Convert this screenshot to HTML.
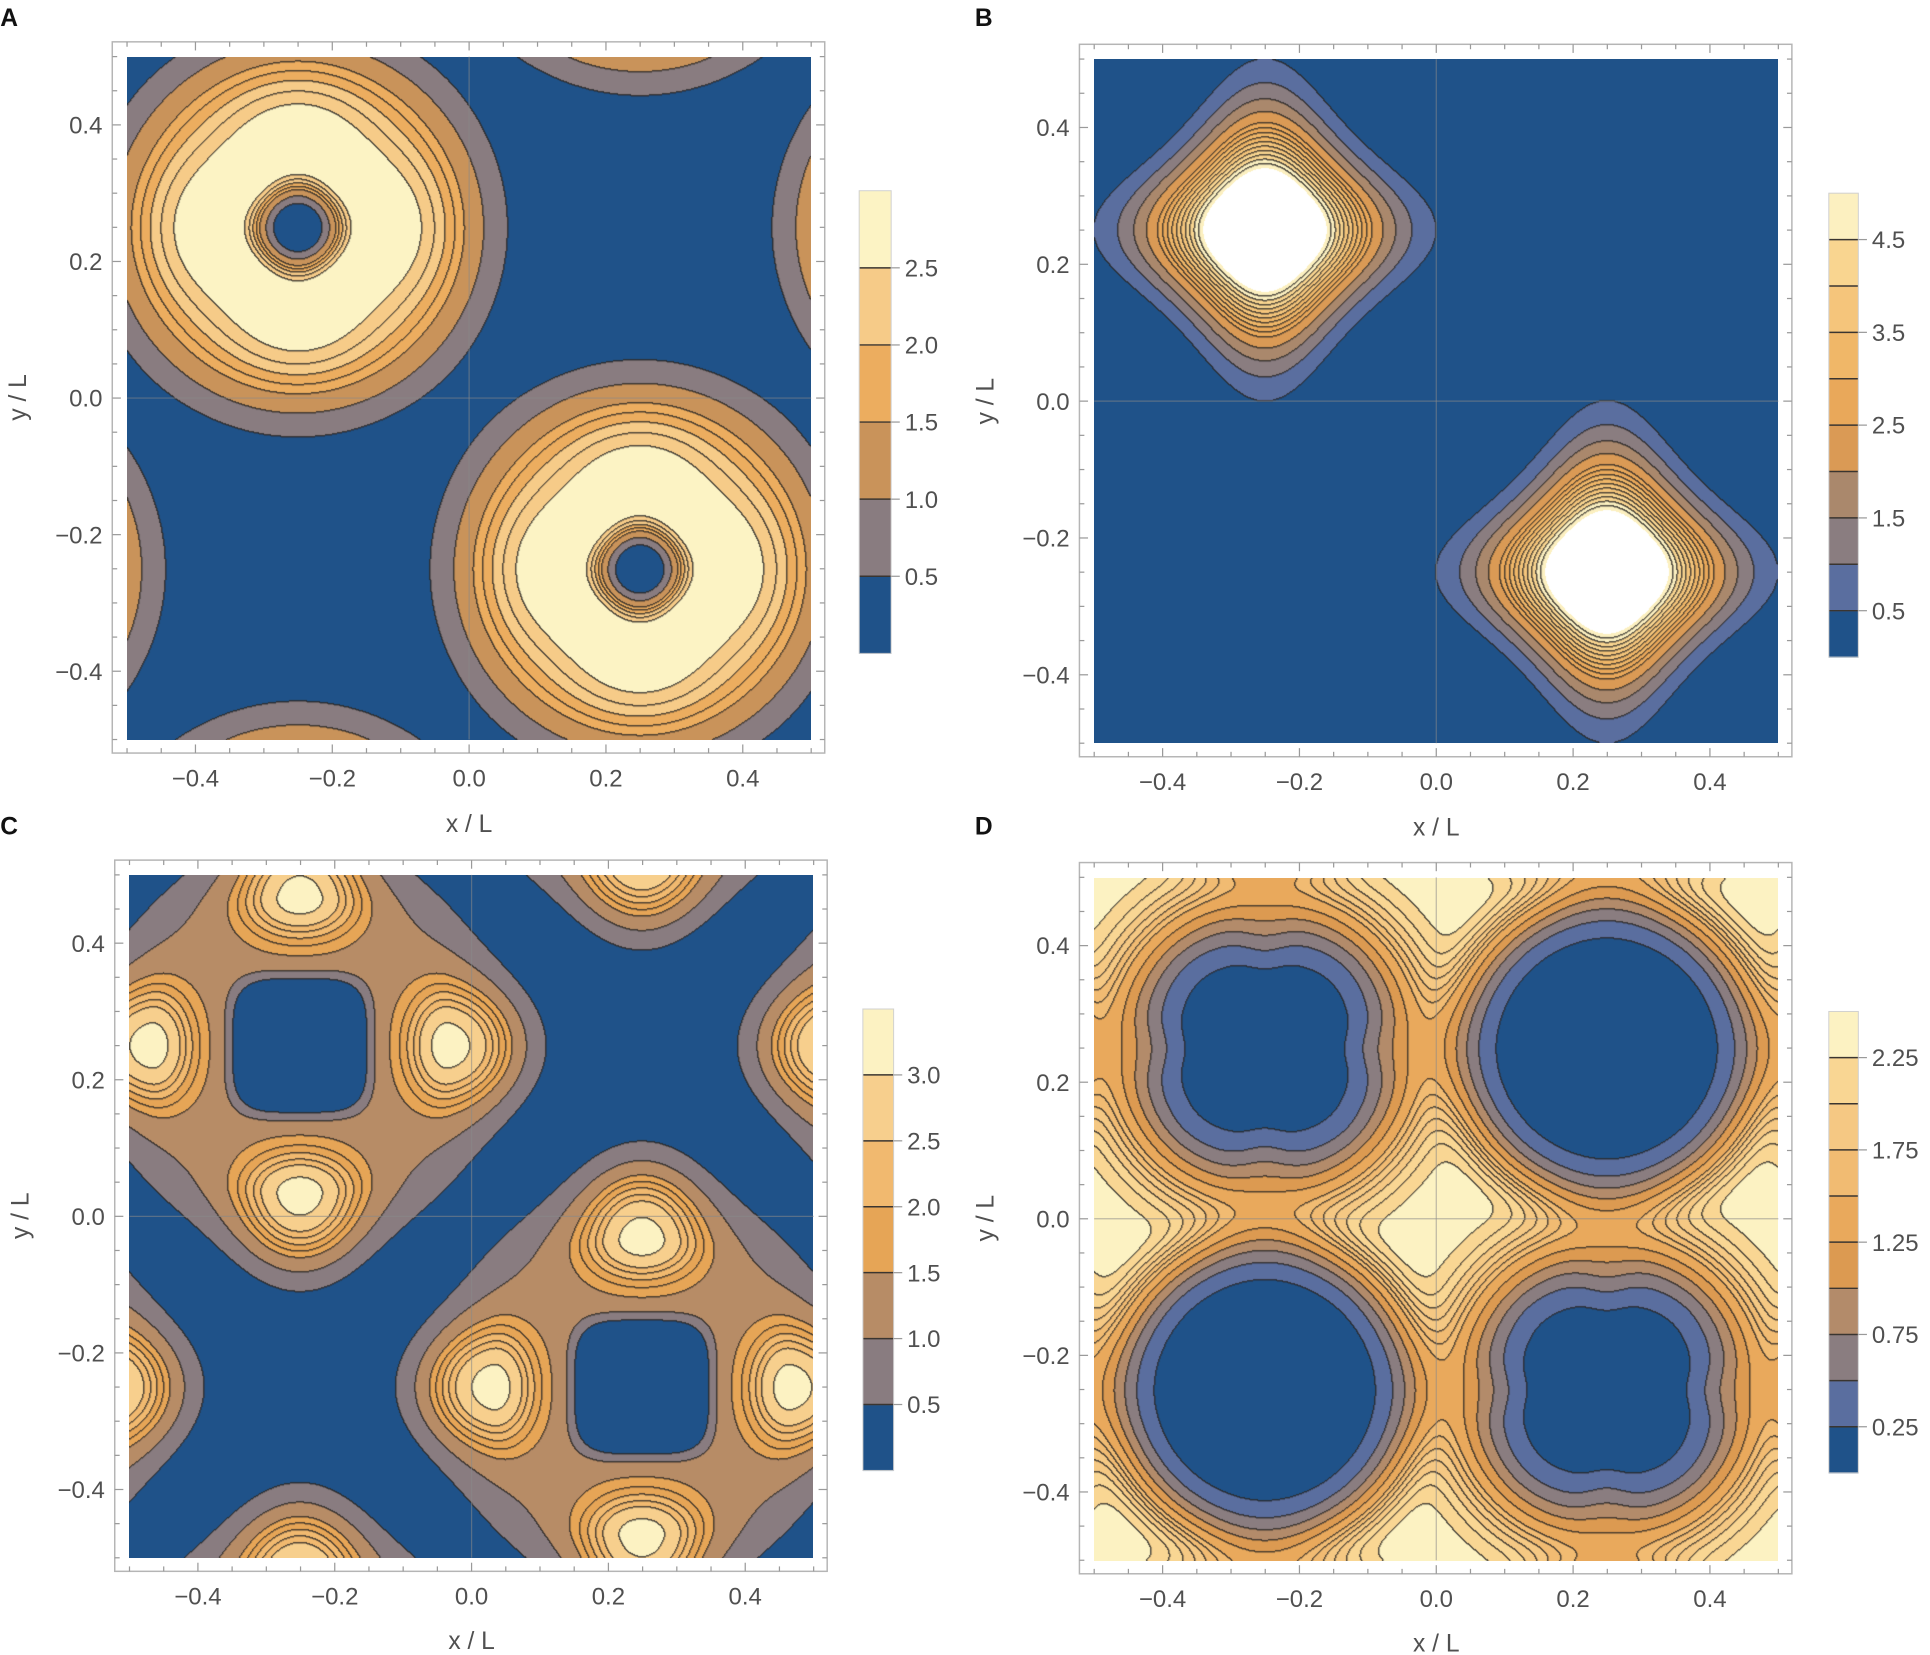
<!DOCTYPE html>
<html><head><meta charset="utf-8">
<style>
body{margin:0;background:#fff;}
#root{position:relative;width:1930px;height:1655px;overflow:hidden;background:#fff}
canvas{position:absolute}
svg{position:absolute;left:0;top:0}
text{font-family:"Liberation Sans",sans-serif;fill:#505050}
</style></head>
<body>
<div id="root">
<canvas id="cA"></canvas>
<canvas id="cB"></canvas>
<canvas id="cC"></canvas>
<canvas id="cD"></canvas>
<svg id="ov" width="1930" height="1655" viewBox="0 0 1568 1345">
<text x="0" y="21" style="font-weight:bold;font-size:20px;fill:#111">A</text>
<text x="792" y="21" style="font-weight:bold;font-size:20px;fill:#111">B</text>
<text x="0" y="678" style="font-weight:bold;font-size:20px;fill:#111">C</text>
<text x="792" y="678" style="font-weight:bold;font-size:20px;fill:#111">D</text>
<text x="381" y="676" text-anchor="middle" font-size="20">x / L</text>
<text x="1167" y="679" text-anchor="middle" font-size="20">x / L</text>
<text x="383" y="1340" text-anchor="middle" font-size="20">x / L</text>
<text x="1167" y="1342" text-anchor="middle" font-size="20">x / L</text>
<text transform="translate(21,323) rotate(-90)" text-anchor="middle" font-size="20">y / L</text>
<text transform="translate(807,326) rotate(-90)" text-anchor="middle" font-size="20">y / L</text>
<text transform="translate(23,988) rotate(-90)" text-anchor="middle" font-size="20">y / L</text>
<text transform="translate(807,990) rotate(-90)" text-anchor="middle" font-size="20">y / L</text>
</svg>
</div>
<script>
// ---------- data ----------
const centers = [[-0.25, 0.25], [0.25, -0.25]];
const bigHolesD = [[0.25, 0.25], [-0.25, -0.25]];
const axisTickValues = [-0.4, -0.2, 0, 0.2, 0.4];
const axisTickLabels = ["\u22120.4", "\u22120.2", "0.0", "0.2", "0.4"];

const levelsA = [0, 0.5, 1, 1.5, 2, 2.5, 3];
const colorsA = ['#1f5289','#897c80','#c9935a','#ecad5f','#f6cb88','#fcf3c4'];
const linesA = [0.5, 1, 1.5, 1.75, 2, 2.25, 2.5];
const cbValsA = [0.5, 1, 1.5, 2, 2.5];
const cbLabelsA = ['0.5','1.0','1.5','2.0','2.5'];
const paramsA = [3.0, 0.062, 0.265, 0.06];

const levelsB = [0, 0.5, 1, 1.5, 2, 2.5, 3, 3.5, 4, 4.5, 5];
const colorsB = ['#1f5289','#5a6e9f','#8a7d80','#aa886c','#da9a55','#e9a85a','#f0b768','#f5c57b','#f9d590','#fcf0c0','#ffffff'];
const linesB = [0.5, 1, 1.5, 2, 2.5, 2.75, 3, 3.25, 3.5, 3.75, 4, 4.25, 4.5, 4.75];
const cbValsB = [0.5, 1.5, 2.5, 3.5, 4.5];
const cbLabelsB = ['0.5','1.5','2.5','3.5','4.5'];
const paramsB = [7.05, 0.154, 0.06, 0.42];

const levelsC = [0, 0.5, 1, 1.5, 2, 2.5, 3, 3.5];
const colorsC = ['#1f5289','#897c80','#b78c66','#e6a556','#f1b96f','#f7cf8d','#fcf2c2'];
const linesC = [0.5, 1, 1.5, 1.75, 2, 2.25, 2.5, 3];
const cbValsC = [0.5, 1, 1.5, 2, 2.5, 3];
const cbLabelsC = ['0.5','1.0','1.5','2.0','2.5','3.0'];
const paramsC = [1.3, 0.102, 0.30, 2.2, 0.22];

const levelsD = [0, 0.25, 0.5, 0.75, 1, 1.25, 1.5, 1.75, 2, 2.25, 2.5];
const colorsD = ['#1f5289','#5a6e9f','#8a7d80','#b38b6a','#dc9a51','#e9a95c','#f1bb72','#f5c883','#f9d693','#fcf2c2'];
const linesD = [0.25, 0.5, 0.75, 1, 1.25, 1.5, 1.625, 1.75, 1.875, 2, 2.125, 2.25];
const cbValsD = [0.25, 0.75, 1.25, 1.75, 2.25];
const cbLabelsD = ['0.25','0.75','1.25','1.75','2.25'];
const paramsD = [2.35, 2.3, 0.231, 6.5, 0.2307, 4.18];

// ---------- layout ----------
const S = 1930 / 1568;
const panels = [
  {id:'A', cv:'cA', plot:[103,46,659,601], cb:[698,155,724,531], lv:levelsA, col:colorsA, ln:linesA, cv_:cbValsA, cl:cbLabelsA},
  {id:'B', cv:'cB', plot:[889,48,1445,604], cb:[1486,157,1510,534], lv:levelsB, col:colorsB, ln:linesB, cv_:cbValsB, cl:cbLabelsB},
  {id:'C', cv:'cC', plot:[105,711,661,1266], cb:[701,820,726,1195], lv:levelsC, col:colorsC, ln:linesC, cv_:cbValsC, cl:cbLabelsC},
  {id:'D', cv:'cD', plot:[889,713,1445,1268], cb:[1486,822,1510,1197], lv:levelsD, col:colorsD, ln:linesD, cv_:cbValsD, cl:cbLabelsD}
];

// ---------- fields ----------
function forImages(list, x, y, cb) {
  let s = 0;
  for (let c = 0; c < list.length; c++)
    for (let i = -1; i <= 1; i++) for (let j = -1; j <= 1; j++) {
      const dx = x - (list[c][0] + i), dy = y - (list[c][1] + j);
      if (Math.abs(dx) > 0.8 || Math.abs(dy) > 0.8) continue;
      s += cb(dx, dy, c);
    }
  return s;
}
function cos4(dx, dy) {
  const r2 = dx*dx + dy*dy; if (r2 < 1e-12) return 0;
  return (dx*dx*dx*dx - 6*dx*dx*dy*dy + dy*dy*dy*dy) / (r2*r2);
}
function fieldA(x, y) {
  const [P, a, b, k] = paramsA;
  return forImages(centers, x, y, (dx, dy) => {
    const r = Math.hypot(dx, dy);
    const re = r * (1 - k * cos4(dx, dy) * Math.exp(-Math.pow((r - 0.14) / 0.07, 2)));
    return P * (1 - Math.exp(-Math.pow(re / a, 3))) * Math.exp(-Math.pow(re / b, 4));
  });
}
function fieldB(x, y) {
  const [P, w, k0, k1] = paramsB;
  return forImages(centers, x, y, (dx, dy) => {
    const r = Math.hypot(dx, dy);
    const k = k0 + k1 * Math.pow(Math.min(1, r / 0.25), 2);
    const re = r * (1 + k * (1 - cos4(dx, dy)) / 2);
    return P * Math.exp(-(re / w) * (re / w));
  });
}
function fieldC(x, y) {
  const [P, h, w, L, R] = paramsC;
  const dirs = [[1,0],[-1,0],[0,1],[0,-1]];
  return forImages(centers, x, y, (dx, dy) => {
    const r = Math.hypot(dx, dy);
    const r4 = Math.pow(dx*dx*dx*dx + dy*dy*dy*dy, 0.25);
    const rise = 1 / (1 + Math.exp(-(r4 - h) / 0.008));
    let v = P * rise * Math.exp(-Math.pow(r / w, 6));
    for (const u of dirs) {
      const s = dx*u[0] + dy*u[1], t = -dx*u[1] + dy*u[0];
      const dr = s - R, sr = dr > 0 ? 0.11 : 0.06;
      v += L * rise * Math.exp(-(dr/sr)*(dr/sr) - (t/0.085)*(t/0.085));
    }
    return v;
  });
}
function fieldD(x, y) {
  const [bg, D, aB, nB, aS, nS] = paramsD;
  const big = forImages(bigHolesD, x, y, (dx, dy) => {
    const r = Math.hypot(dx, dy);
    return D * Math.exp(-Math.pow(r / aB, nB));
  });
  const small = forImages(centers, x, y, (dx, dy) => {
    const r = Math.hypot(dx, dy);
    const k = 0.12 * Math.exp(-Math.pow((r - 0.13) / 0.07, 2));
    const ax = Math.pow((1 + cos4(dx, dy)) / 2, 4);
    const diag = Math.pow((1 - cos4(dx, dy)) / 2, 2);
    const re = r * (1 + k * ax - 0.05 * diag * Math.exp(-Math.pow((r - 0.14) / 0.06, 2)));
    return D * Math.exp(-Math.pow(re / aS, nS));
  });
  return bg - big - small;
}
const fields = {A: fieldA, B: fieldB, C: fieldC, D: fieldD};

// ---------- render ----------
function hex(c) { return [parseInt(c.slice(1,3),16), parseInt(c.slice(3,5),16), parseInt(c.slice(5,7),16)]; }
function renderPanel(p) {
  const cv = document.getElementById(p.cv);
  const [x0, y0, x1, y1] = p.plot;
  const W = Math.round((x1 - x0) * S), H = Math.round((y1 - y0) * S);
  cv.width = W; cv.height = H;
  cv.style.left = Math.round(x0 * S) + 'px'; cv.style.top = Math.round(y0 * S) + 'px';
  cv.style.width = W + 'px'; cv.style.height = H + 'px';
  const ctx = cv.getContext('2d');
  const img = ctx.createImageData(W, H);
  const f = fields[p.id];
  const bands = new Uint8Array(W * H), lines = new Uint8Array(W * H);
  const cols = p.col.map(hex);
  for (let j = 0; j < H; j++) for (let i = 0; i < W; i++) {
    const x = -0.5 + (i + 0.5) / W, y = 0.5 - (j + 0.5) / H;
    const v = f(x, y);
    let b = 0; for (let k = 1; k < p.lv.length; k++) if (v > p.lv[k]) b++;
    if (b > cols.length - 1) b = cols.length - 1;
    let l = 0; for (let k = 0; k < p.ln.length; k++) if (v > p.ln[k]) l++;
    bands[j*W+i] = b; lines[j*W+i] = l;
  }
  const dark = [40, 38, 36];
  for (let j = 0; j < H; j++) for (let i = 0; i < W; i++) {
    const id = j*W+i, c = cols[bands[id]];
    let a = 0;
    const l = lines[id];
    if (i < W-1 && lines[id+1] !== l) a = 0.8;
    if (j < H-1 && lines[id+W] !== l) a = 0.8;
    if (a === 0) {
      if (i > 0 && lines[id-1] !== l) a = 0.4;
      if (j > 0 && lines[id-W] !== l) a = 0.4;
    }
    const o = id * 4;
    img.data[o] = c[0]*(1-a) + dark[0]*a;
    img.data[o+1] = c[1]*(1-a) + dark[1]*a;
    img.data[o+2] = c[2]*(1-a) + dark[2]*a;
    img.data[o+3] = 255;
  }
  ctx.putImageData(img, 0, 0);
}

const NS = 'http://www.w3.org/2000/svg';
const svg = document.getElementById('ov');
function mk(tag, attrs) { const e = document.createElementNS(NS, tag); for (const k in attrs) e.setAttribute(k, attrs[k]); svg.appendChild(e); return e; }

function decorate(p) {
  const [x0, y0, x1, y1] = p.plot;
  const id = p.id.toLowerCase();
  const X = v => x0 + (v + 0.5) * (x1 - x0);
  const Y = v => y0 + (0.5 - v) * (y1 - y0);
  const gx = mk('line', {x1: X(0), x2: X(0), y1: y0, y2: y1, stroke: '#888', 'stroke-opacity': 0.55, 'stroke-width': 1});
  
  
  const gy = mk('line', {x1: x0, x2: x1, y1: Y(0), y2: Y(0), stroke: '#888', 'stroke-opacity': 0.55, 'stroke-width': 1});
  
  
  const fx0 = x0 - 12, fy0 = y0 - 12, fx1 = x1 + 11, fy1 = y1 + 11;
  const fr = mk('rect', {x: fx0, y: fy0, width: fx1 - fx0, height: fy1 - fy0, fill: 'none', stroke: '#b5b5b5', 'stroke-width': 1.2});
  
  
  for (let k = -10; k <= 10; k++) {
    const v = k * 0.05, major = (k % 4 === 0 && Math.abs(k) !== 10);
    const len = major ? 7 : 4;
    const px = X(v), py = Y(v);
    const segs = [[px, fy1, px, fy1 - len], [px, fy0, px, fy0 + len], [fx0, py, fx0 + len, py], [fx1, py, fx1 - len, py]];
    for (const s of segs) {
      const t = mk('line', {x1: s[0], y1: s[1], x2: s[2], y2: s[3], stroke: '#9a9a9a', 'stroke-width': 1});
      
      
    }
  }
  axisTickValues.forEach((v, i) => {
    const tx = mk('text', {x: X(v), y: fy1 + 27, 'text-anchor': 'middle', 'font-size': 19.5});
    tx.textContent = axisTickLabels[i];
    
    
    const ty = mk('text', {x: fx0 - 8, y: Y(v) + 7, 'text-anchor': 'end', 'font-size': 19.5});
    ty.textContent = axisTickLabels[i];
    
    
  });
  const [cx0, cy0, cx1, cy1] = p.cb;
  const vmin = p.lv[0], vmax = p.lv[p.lv.length - 1];
  const CY = v => cy1 - (v - vmin) / (vmax - vmin) * (cy1 - cy0);
  const nb = Math.min(p.col.length, p.lv.length - 1);
  for (let b = 0; b < nb; b++) {
    const r = mk('rect', {x: cx0, y: CY(p.lv[b + 1]), width: cx1 - cx0, height: CY(p.lv[b]) - CY(p.lv[b + 1]) + 0.5, fill: p.col[b]});
    
    
  }
  for (let b = 1; b < p.lv.length - 1; b++) {
    const l = mk('line', {x1: cx0, x2: cx1, y1: CY(p.lv[b]), y2: CY(p.lv[b]), stroke: '#3a3530', 'stroke-width': 1.2});
    
    
  }
  const cbf = mk('rect', {x: cx0, y: cy0, width: cx1 - cx0, height: cy1 - cy0, fill: 'none', stroke: '#d0d0d0', 'stroke-width': 0.8});
  
  
  p.cv_.forEach((v, i) => {
    const tk = mk('line', {x1: cx1, x2: cx1 + 7, y1: CY(v), y2: CY(v), stroke: '#9a9a9a', 'stroke-width': 1});
    
    
    const t = mk('text', {x: cx1 + 11, y: CY(v) + 7, 'font-size': 19.5});
    t.textContent = p.cl[i];
    
    
  });
}
panels.forEach(p => { renderPanel(p); decorate(p); });
</script>
</body></html>
